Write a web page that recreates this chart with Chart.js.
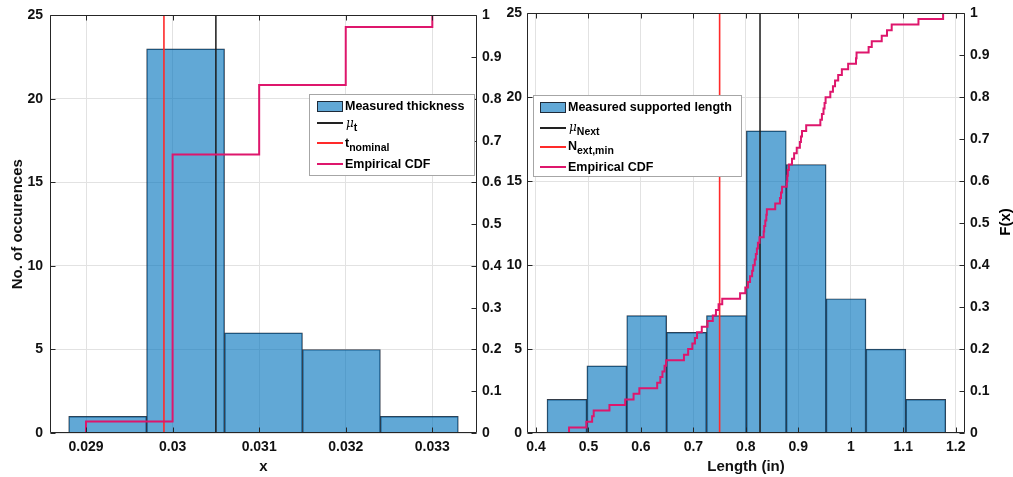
<!DOCTYPE html>
<html><head><meta charset="utf-8">
<script src="https://cdn.jsdelivr.net/npm/chart.js@4.4.1/dist/chart.umd.min.js"></script>
<style>
html,body{margin:0;padding:0;background:#fff;}
#wrap{position:relative;width:1013px;height:477px;overflow:hidden;font-family:"Liberation Sans",Arial,sans-serif;background:#fff;}
canvas{position:absolute;top:0;}
#c1{left:0;}
#c2{left:504px;}
.lbox{position:absolute;background:#fff;border:1px solid #a6a6a6;box-sizing:border-box;}
.sw{position:absolute;box-sizing:border-box;}
.lt{position:absolute;font-weight:bold;font-size:12.5px;line-height:14px;height:14px;white-space:nowrap;color:#000;}
.lt sub{font-size:10.5px;vertical-align:baseline;position:relative;top:4px;}
.mu{font-family:"DejaVu Serif",serif;font-style:italic;font-weight:normal;font-size:12px;}
#fx{position:absolute;left:975px;top:213px;width:60px;height:18px;line-height:18px;text-align:center;font-weight:bold;font-size:15px;transform:rotate(-90deg);color:#000;}
</style>
</head><body>
<div id="wrap">
<canvas id="c1" width="504" height="477"></canvas>
<canvas id="c2" width="509" height="477"></canvas>

<div class="lbox" style="left:309px;top:94px;width:166px;height:82px;"></div>
<div class="sw" style="left:317px;top:101px;width:26px;height:11px;background:rgba(0,114,189,0.62);border:1px solid #1e2a38;"></div>
<div class="lt" style="left:345px;top:99px;">Measured thickness</div>
<div class="sw" style="left:317px;top:122px;width:26px;height:2px;background:#222;"></div>
<div class="lt" style="left:346px;top:116px;"><span class="mu">μ</span><sub>t</sub></div>
<div class="sw" style="left:317px;top:142px;width:26px;height:2px;background:#ff2a2a;"></div>
<div class="lt" style="left:345px;top:136px;">t<sub>nominal</sub></div>
<div class="sw" style="left:317px;top:163px;width:26px;height:2px;background:#de166c;"></div>
<div class="lt" style="left:345px;top:157px;">Empirical CDF</div>

<div class="lbox" style="left:533px;top:95px;width:209px;height:82px;"></div>
<div class="sw" style="left:540px;top:102px;width:26px;height:11px;background:rgba(0,114,189,0.62);border:1px solid #1e2a38;"></div>
<div class="lt" style="left:568px;top:100px;">Measured supported length</div>
<div class="sw" style="left:540px;top:127px;width:26px;height:2px;background:#222;"></div>
<div class="lt" style="left:569px;top:120px;"><span class="mu">μ</span><sub>Next</sub></div>
<div class="sw" style="left:540px;top:146px;width:26px;height:2px;background:#ff2a2a;"></div>
<div class="lt" style="left:568px;top:139px;">N<sub>ext,min</sub></div>
<div class="sw" style="left:540px;top:166px;width:26px;height:2px;background:#de166c;"></div>
<div class="lt" style="left:568px;top:160px;">Empirical CDF</div>

<div id="fx">F(x)</div>
</div>
<script>
// ---------------- data: left panel (thickness) ----------------
const thicknessBinEdges = [0.0288, 0.0297, 0.0306, 0.0315, 0.0324, 0.0333];
const thicknessCounts   = [1, 23, 6, 5, 1];
const thicknessValues   = [0.029, 0.030, 0.031, 0.032, 0.033];
const thicknessFreq     = [1, 23, 6, 5, 1];
const thicknessMean     = 0.0305;
const thicknessNominal  = 0.0299;
const thicknessXTicks   = [0.029, 0.030, 0.031, 0.032, 0.033];
const thicknessXRange   = [0.028584, 0.033516];

// ---------------- data: right panel (supported length) ----------------
const lengthBinEdges = [0.421, 0.497, 0.573, 0.649, 0.725, 0.801, 0.877, 0.953, 1.029, 1.105, 1.181];
const lengthCounts   = [2, 4, 7, 6, 7, 18, 16, 8, 5, 2];
const lengthSamples  = [
  0.463, 0.496,
  0.507, 0.510, 0.540, 0.570,
  0.586, 0.597, 0.631, 0.637, 0.641, 0.645, 0.648,
  0.682, 0.690, 0.698, 0.703, 0.707, 0.716,
  0.727, 0.737, 0.743, 0.748, 0.755, 0.789, 0.799,
  0.804, 0.808, 0.812, 0.814, 0.817, 0.819, 0.821, 0.823, 0.826,
  0.834, 0.835, 0.837, 0.839, 0.840, 0.856, 0.865, 0.867, 0.869,
  0.878, 0.879, 0.880, 0.882, 0.888, 0.892, 0.897, 0.903, 0.905, 0.907,
  0.915, 0.942, 0.945, 0.948, 0.950, 0.952,
  0.961, 0.966, 0.970, 0.976, 0.983, 0.995, 1.010, 1.011,
  1.034, 1.040, 1.059, 1.069, 1.078,
  1.129, 1.176
];
const lengthMean   = 0.827;
const lengthMinReq = 0.75;
const lengthXTicks = [0.4, 0.5, 0.6, 0.7, 0.8, 0.9, 1.0, 1.1, 1.2];
const lengthXRange = [0.38286, 1.21771];

// ---------------- shared tick labels ----------------
const countTicks = [0, 5, 10, 15, 20, 25];
const cdfTicks   = [0, 0.1, 0.2, 0.3, 0.4, 0.5, 0.6, 0.7, 0.8, 0.9, 1];

// ---------------- helpers ----------------
const BAR_FILL = 'rgba(0,114,189,0.62)';
const BAR_EDGE = 'rgba(15,25,40,0.85)';
const MEAN_COL = '#1a1a1a';
const NOM_COL  = '#ff2a2a';
const CDF_COL  = '#de166c';
const GRID_COL = '#e2e2e2';
const FONT = '"Liberation Sans", Arial, sans-serif';

function binPoints(edges, counts) {
  return counts.map((c, i) => ({x: (edges[i] + edges[i + 1]) / 2, y: c}));
}
function ecdfPoints(samples) {
  const s = samples.slice().sort((a, b) => a - b);
  const n = s.length;
  const pts = [{x: s[0], y: 0}];
  for (let i = 0; i < n; i++) {
    if (i < n - 1 && s[i + 1] === s[i]) continue;
    pts.push({x: s[i], y: (i + 1) / n});
  }
  return pts;
}
function expand(values, freq) {
  const out = [];
  values.forEach((v, i) => { for (let k = 0; k < freq[i]; k++) out.push(v); });
  return out;
}
const fmt = v => String(+Number(v).toFixed(6));
const setTicks = arr => scale => { scale.ticks = arr.map(v => ({value: v})); };

const boxPlugin = {
  id: 'mbox',
  afterDatasetsDraw(chart) {
    const {ctx, chartArea: a, scales} = chart;
    const L = 5;
    ctx.save();
    ctx.strokeStyle = '#262626';
    ctx.lineWidth = 1;
    const l = Math.round(a.left) + 0.5, r = Math.round(a.right) - 0.5;
    const t = Math.round(a.top) + 0.5, b = Math.round(a.bottom) - 0.5;
    ctx.beginPath();
    ctx.rect(l, t, r - l, b - t);
    scales.x.ticks.forEach(tk => {
      const p = Math.round(scales.x.getPixelForValue(tk.value)) + 0.5;
      ctx.moveTo(p, b); ctx.lineTo(p, b - L);
      ctx.moveTo(p, t); ctx.lineTo(p, t + L);
    });
    scales.yL.ticks.forEach(tk => {
      const p = Math.round(scales.yL.getPixelForValue(tk.value)) + 0.5;
      ctx.moveTo(l, p); ctx.lineTo(l + L, p);
    });
    scales.yR.ticks.forEach(tk => {
      const p = Math.round(scales.yR.getPixelForValue(tk.value)) + 0.5;
      ctx.moveTo(r, p); ctx.lineTo(r - L, p);
    });
    ctx.stroke();
    ctx.restore();
  }
};

function makeChart(canvasId, cfg) {
  const tickFont = {family: FONT, size: 14, weight: 'bold'};
  const titleFont = {family: FONT, size: 15, weight: 'bold'};
  return new Chart(document.getElementById(canvasId), {
    type: 'bar',
    data: {
      datasets: [
        {type: 'bar', data: binPoints(cfg.edges, cfg.counts), yAxisID: 'yL',
         backgroundColor: BAR_FILL, borderColor: BAR_EDGE, borderWidth: 0.8,
         barPercentage: 1, categoryPercentage: 1, order: 4},
        {type: 'line', data: [{x: cfg.mean, y: 0}, {x: cfg.mean, y: 25}], yAxisID: 'yL',
         borderColor: MEAN_COL, borderWidth: 1.5, pointRadius: 0, fill: false, order: 3},
        {type: 'line', data: [{x: cfg.ref, y: 0}, {x: cfg.ref, y: 25}], yAxisID: 'yL',
         borderColor: NOM_COL, borderWidth: 1.6, pointRadius: 0, fill: false, order: 2},
        {type: 'line', data: ecdfPoints(cfg.samples), yAxisID: 'yR', stepped: 'before',
         borderColor: CDF_COL, borderWidth: 2, pointRadius: 0, fill: false, order: 1}
      ]
    },
    options: {
      responsive: false, animation: false, events: [],
      layout: {padding: {top: 12, left: 0, right: 0, bottom: 0}},
      plugins: {legend: {display: false}, tooltip: {enabled: false}},
      scales: {
        x: {
          type: 'linear', position: 'bottom', offset: false,
          min: cfg.xRange[0], max: cfg.xRange[1],
          afterBuildTicks: setTicks(cfg.xTicks),
          afterFit: s => { s.height = 44; },
          grid: {display: true, color: GRID_COL, drawTicks: false, offset: false},
          border: {display: false},
          ticks: {font: tickFont, color: '#111', padding: 6, autoSkip: false, maxRotation: 0, callback: fmt},
          title: {display: true, text: cfg.xTitle, font: titleFont, color: '#111', padding: {top: 0, bottom: 1}}
        },
        yL: {
          type: 'linear', position: 'left', min: 0, max: 25,
          afterBuildTicks: setTicks(countTicks),
          afterFit: s => { s.width = cfg.leftW; },
          grid: {display: true, color: GRID_COL, drawTicks: false},
          border: {display: false},
          ticks: {font: tickFont, color: '#111', padding: cfg.leftPad, autoSkip: false, callback: fmt},
          title: {display: !!cfg.yTitle, text: cfg.yTitle || '', font: titleFont, color: '#111', padding: {top: 9, bottom: 0}}
        },
        yR: {
          type: 'linear', position: 'right', min: 0, max: 1,
          afterBuildTicks: setTicks(cdfTicks),
          afterFit: s => { s.width = cfg.rightW; },
          grid: {display: false, drawTicks: false},
          border: {display: false},
          ticks: {font: tickFont, color: '#111', padding: 5, autoSkip: false, callback: fmt}
        }
      }
    },
    plugins: [boxPlugin]
  });
}

makeChart('c1', {
  edges: thicknessBinEdges, counts: thicknessCounts,
  samples: expand(thicknessValues, thicknessFreq),
  mean: thicknessMean, ref: thicknessNominal,
  xTicks: thicknessXTicks, xRange: thicknessXRange,
  xTitle: 'x', yTitle: 'No. of occurences',
  leftW: 50, leftPad: 7, rightW: 27
});
makeChart('c2', {
  edges: lengthBinEdges, counts: lengthCounts,
  samples: lengthSamples,
  mean: lengthMean, ref: lengthMinReq,
  xTicks: lengthXTicks, xRange: lengthXRange,
  xTitle: 'Length (in)', yTitle: null,
  leftW: 23, leftPad: 5, rightW: 48
});
</script>
</body></html>
